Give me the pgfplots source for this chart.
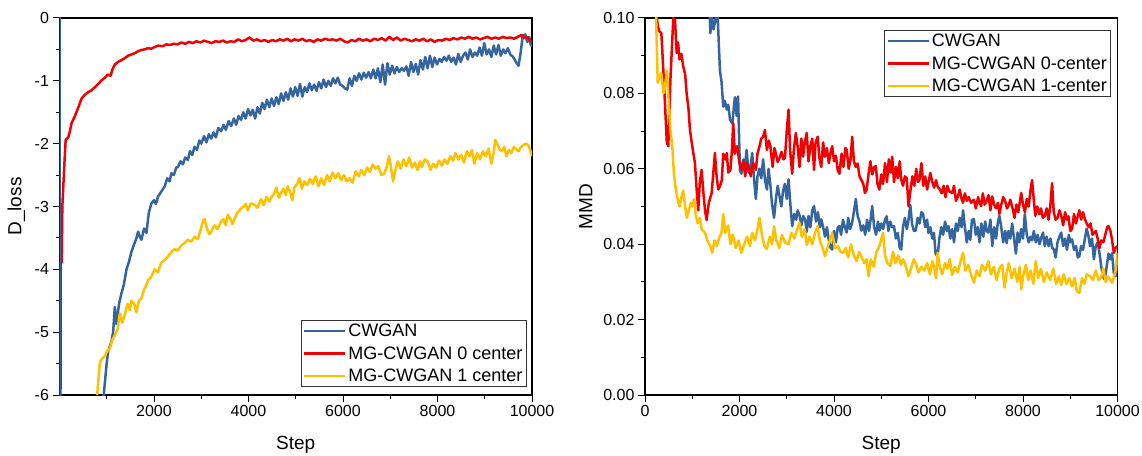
\documentclass[border=0pt]{standalone}
\usepackage{pgfplots}
\pgfplotsset{compat=1.18}
\usepackage{fontspec}
\setmainfont{Liberation Sans}
\definecolor{cblue}{RGB}{52,101,158}
\definecolor{cred}{RGB}{240,0,0}
\definecolor{cyel}{RGB}{255,192,0}
\pgfplotsset{
  myaxis/.style={
    scale only axis, width=472.5pt, height=377pt,
    axis line style={line width=1.1pt},
    tick align=outside, xtick pos=left, ytick pos=left,
    major tick length=7pt, minor tick length=4pt,
    every tick/.style={line width=1pt, black},
    /pgf/number format/assume math mode=true,
    /pgf/number format/1000 sep={},
    scaled ticks=false,
    tick label style={font=\fontsize{16}{18}\selectfont},
    label style={font=\fontsize{19}{22}\selectfont},
    legend style={font=\fontsize{18}{21}\selectfont, draw=black!80, line width=0.9pt, fill=white,
      inner xsep=2pt, inner ysep=1.5pt, row sep=4.5pt, cells={anchor=west}},
    legend image code/.code={\draw[#1, line width=2.3pt] (0pt,0pt) -- (41pt,0pt);},
    clip=true,
  },
  sb/.style={cblue, line width=2.5pt, line join=round},
  sr/.style={cred, line width=2.5pt, line join=round},
  sy/.style={cyel, line width=2.5pt, line join=round},
}
\begin{document}
\begin{tikzpicture}[x=1pt,y=1pt]
\useasboundingbox (0,0) rectangle (1142,455);
% ---------------- left panel ----------------
\begin{axis}[myaxis,
  at={(59.5pt,60pt)}, anchor=south west,
  xmin=0, xmax=10000, ymin=-6, ymax=0,
  xtick={2000,4000,6000,8000,10000}, minor xtick={1000,3000,5000,7000,9000},
  ytick={-6,-5,-4,-3,-2,-1,0}, minor ytick={-5.5,-4.5,-3.5,-2.5,-1.5,-0.5},
  yticklabels={-6,-5,-4,-3,-2,-1,0},
  xlabel={Step}, ylabel={D\_loss},
  xlabel style={at={(axis description cs:0.5,-0.133)}, anchor=center},
  ylabel style={at={(axis description cs:-0.091,0.5)}, anchor=center},
  legend style={at={(axis description cs:0.989,0.021)}, anchor=south east},
]
\addplot[sb] coordinates {(-100,-7) (936,-6.0) (995,-5.52) (1030,-5.3) (1100,-5.15) (1135,-5.0) (1170,-4.6) (1205,-4.87) (1260,-4.55) (1312,-4.38) (1360,-4.25) (1418,-4.0) (1470,-3.88) (1523,-3.72) (1580,-3.6) (1630,-3.5) (1664,-3.4) (1700,-3.48) (1734,-3.53) (1790,-3.35) (1840,-3.42) (1890,-3.1) (1945,-2.95) (2000,-2.9) (2040,-2.96) (2086,-2.84) (2140,-2.78) (2190,-2.72) (2226,-2.68) (2280,-2.55) (2330,-2.6) (2367,-2.47) (2420,-2.5) (2470,-2.38) (2508,-2.37) (2560,-2.28) (2610,-2.33) (2660,-2.22) (2719,-2.26) (2760,-2.12) (2810,-2.18) (2859,-2.05) (2910,-2.1) (2960,-1.95) (3000,-2.0) (3060,-1.88) (3110,-1.98) (3160,-1.85) (3211,-1.92) (3260,-1.82) (3310,-1.9) (3360,-1.75) (3422,-1.8) (3470,-1.7) (3520,-1.78) (3580,-1.64) (3633,-1.72) (3690,-1.6) (3740,-1.7) (3790,-1.56) (3844,-1.62) (3890,-1.5) (3940,-1.6) (3990,-1.45) (4040,-1.55) (4090,-1.46) (4140,-1.6) (4190,-1.42) (4240,-1.52) (4290,-1.35) (4340,-1.45) (4390,-1.3) (4440,-1.42) (4490,-1.28) (4540,-1.4) (4590,-1.26) (4640,-1.37) (4690,-1.2) (4740,-1.32) (4790,-1.18) (4840,-1.3) (4890,-1.12) (4940,-1.25) (4990,-1.1) (5040,-1.24) (5090,-1.05) (5140,-1.25) (5190,-1.1) (5240,-1.18) (5290,-1.04) (5340,-1.15) (5390,-1.06) (5440,-1.16) (5490,-1.02) (5540,-1.12) (5590,-0.98) (5640,-1.1) (5690,-1.0) (5740,-1.08) (5790,-0.96) (5840,-1.04) (5890,-0.95) (5940,-1.06) (5990,-1.08) (6040,-1.12) (6090,-1.14) (6140,-0.96) (6190,-1.08) (6240,-0.92) (6290,-1.0) (6340,-0.88) (6390,-0.98) (6440,-0.87) (6490,-0.95) (6540,-0.86) (6590,-0.96) (6640,-0.82) (6690,-0.96) (6740,-0.8) (6790,-1.02) (6840,-0.74) (6890,-1.06) (6940,-0.72) (6990,-0.9) (7040,-0.76) (7090,-0.88) (7140,-0.78) (7190,-0.86) (7240,-0.8) (7290,-0.84) (7340,-0.77) (7390,-0.92) (7440,-0.7) (7490,-0.86) (7540,-0.73) (7590,-0.9) (7640,-0.67) (7690,-0.82) (7740,-0.62) (7790,-0.8) (7840,-0.6) (7890,-0.78) (7940,-0.63) (7990,-0.74) (8040,-0.65) (8090,-0.7) (8140,-0.62) (8190,-0.68) (8240,-0.6) (8290,-0.7) (8340,-0.63) (8390,-0.74) (8440,-0.57) (8490,-0.7) (8540,-0.6) (8590,-0.55) (8640,-0.66) (8690,-0.5) (8740,-0.62) (8790,-0.55) (8840,-0.6) (8890,-0.47) (8940,-0.6) (8990,-0.4) (9040,-0.58) (9090,-0.5) (9140,-0.62) (9190,-0.44) (9240,-0.58) (9290,-0.43) (9340,-0.6) (9390,-0.5) (9440,-0.56) (9490,-0.48) (9540,-0.58) (9600,-0.62) (9660,-0.7) (9715,-0.76) (9760,-0.55) (9800,-0.3) (9856,-0.26) (9900,-0.38) (9940,-0.3) (9970,-0.42) (10000,-0.45)};
\addlegendentry{CWGAN}
\addplot[sr] coordinates {(20,-6.5) (25,-3.9) (45,-3.9) (60,-3.0) (100,-2.37) (130,-1.94) (186,-1.9) (220,-1.8) (257,-1.67) (327,-1.56) (400,-1.42) (468,-1.28) (540,-1.22) (608,-1.18) (680,-1.15) (750,-1.1) (819,-1.05) (880,-1.0) (960,-0.95) (1020,-0.9) (1080,-0.92) (1120,-0.82) (1171,-0.74) (1240,-0.7) (1312,-0.67) (1380,-0.64) (1450,-0.6) (1520,-0.58) (1593,-0.56) (1660,-0.53) (1730,-0.51) (1800,-0.5) (1870,-0.48) (1940,-0.49) (2015,-0.46) (2100,-0.44) (2180,-0.45) (2260,-0.42) (2340,-0.43) (2420,-0.41) (2500,-0.42) (2580,-0.39) (2660,-0.41) (2740,-0.38) (2820,-0.40) (2900,-0.37) (2980,-0.39) (3060,-0.36) (3140,-0.38) (3220,-0.40) (3300,-0.37) (3380,-0.38) (3460,-0.36) (3540,-0.39) (3620,-0.37) (3700,-0.38) (3780,-0.34) (3860,-0.37) (3940,-0.35) (4020,-0.31) (4100,-0.36) (4180,-0.34) (4260,-0.37) (4340,-0.35) (4420,-0.38) (4500,-0.35) (4580,-0.37) (4660,-0.34) (4740,-0.36) (4820,-0.33) (4900,-0.37) (4980,-0.34) (5060,-0.36) (5140,-0.33) (5220,-0.37) (5300,-0.35) (5380,-0.38) (5460,-0.34) (5540,-0.36) (5620,-0.33) (5700,-0.35) (5780,-0.34) (5860,-0.36) (5940,-0.33) (6020,-0.37) (6100,-0.39) (6180,-0.35) (6260,-0.37) (6340,-0.33) (6420,-0.36) (6500,-0.34) (6580,-0.37) (6660,-0.33) (6740,-0.35) (6820,-0.32) (6900,-0.36) (6980,-0.30) (7060,-0.35) (7140,-0.31) (7220,-0.36) (7300,-0.33) (7380,-0.35) (7460,-0.37) (7540,-0.34) (7620,-0.36) (7700,-0.33) (7780,-0.37) (7860,-0.34) (7940,-0.38) (8020,-0.35) (8100,-0.36) (8180,-0.33) (8260,-0.35) (8340,-0.32) (8420,-0.34) (8500,-0.31) (8580,-0.33) (8660,-0.30) (8740,-0.33) (8820,-0.31) (8900,-0.34) (8980,-0.32) (9060,-0.30) (9140,-0.33) (9220,-0.31) (9300,-0.33) (9380,-0.30) (9460,-0.32) (9540,-0.31) (9620,-0.33) (9700,-0.30) (9780,-0.27) (9840,-0.32) (9900,-0.30) (9950,-0.35) (10000,-0.38)};
\addlegendentry{MG-CWGAN 0 center}
\addplot[sy] coordinates {(796,-6.0) (855,-5.48) (900,-5.42) (960,-5.38) (1010,-5.3) (1065,-5.26) (1120,-5.12) (1170,-5.05) (1230,-4.95) (1276,-4.7) (1330,-4.85) (1382,-4.72) (1440,-4.55) (1490,-4.65) (1523,-4.5) (1580,-4.55) (1628,-4.68) (1680,-4.5) (1734,-4.46) (1790,-4.32) (1840,-4.25) (1875,-4.17) (1940,-4.12) (2015,-4.0) (2080,-4.05) (2150,-3.9) (2226,-3.85) (2290,-3.8) (2370,-3.72) (2437,-3.68) (2500,-3.7) (2578,-3.62) (2650,-3.58) (2719,-3.53) (2790,-3.56) (2860,-3.48) (2930,-3.52) (2990,-3.36) (3040,-3.22) (3070,-3.2) (3120,-3.35) (3170,-3.44) (3211,-3.4) (3280,-3.3) (3340,-3.36) (3422,-3.24) (3470,-3.2) (3520,-3.3) (3563,-3.13) (3620,-3.2) (3660,-3.28) (3703,-3.2) (3760,-3.1) (3844,-3.03) (3900,-3.0) (3940,-2.96) (3985,-3.06) (4050,-2.95) (4125,-2.97) (4190,-3.02) (4265,-2.88) (4320,-2.98) (4380,-2.85) (4440,-2.92) (4476,-2.86) (4540,-2.8) (4590,-2.7) (4640,-2.86) (4687,-2.78) (4740,-2.72) (4790,-2.82) (4828,-2.68) (4870,-2.75) (4930,-2.9) (4968,-2.7) (5020,-2.65) (5080,-2.55) (5130,-2.72) (5180,-2.6) (5240,-2.66) (5300,-2.56) (5360,-2.64) (5420,-2.52) (5480,-2.68) (5540,-2.55) (5600,-2.66) (5660,-2.5) (5720,-2.6) (5780,-2.46) (5840,-2.55) (5900,-2.47) (5960,-2.58) (6020,-2.5) (6080,-2.6) (6140,-2.55) (6200,-2.62) (6270,-2.44) (6330,-2.52) (6390,-2.42) (6450,-2.5) (6510,-2.38) (6570,-2.45) (6630,-2.33) (6690,-2.4) (6750,-2.36) (6810,-2.5) (6870,-2.48) (6930,-2.36) (6972,-2.2) (7010,-2.35) (7060,-2.6) (7100,-2.45) (7160,-2.28) (7220,-2.4) (7280,-2.25) (7340,-2.36) (7400,-2.22) (7460,-2.38) (7520,-2.3) (7580,-2.42) (7630,-2.28) (7670,-2.37) (7730,-2.25) (7790,-2.28) (7850,-2.42) (7910,-2.32) (7970,-2.38) (8030,-2.27) (8090,-2.35) (8150,-2.25) (8210,-2.32) (8270,-2.2) (8330,-2.27) (8380,-2.15) (8440,-2.25) (8500,-2.18) (8560,-2.3) (8620,-2.12) (8680,-2.2) (8730,-2.1) (8780,-2.32) (8840,-2.15) (8900,-2.25) (8960,-2.12) (9020,-2.2) (9080,-2.08) (9140,-2.32) (9190,-2.14) (9223,-1.94) (9270,-2.02) (9320,-2.1) (9364,-2.12) (9410,-2.05) (9460,-2.2) (9510,-2.1) (9560,-2.15) (9620,-2.05) (9680,-2.1) (9715,-2.12) (9760,-2.06) (9820,-2.02) (9890,-2.0) (9940,-2.05) (9970,-2.12) (10000,-2.2)};
\addlegendentry{MG-CWGAN 1 center}
\addplot[sb, forget plot] coordinates {(10,0.5) (10,-6.5)};
\end{axis}
% ---------------- right panel ----------------
\begin{axis}[myaxis,
  at={(645pt,60pt)}, anchor=south west,
  xmin=0, xmax=10000, ymin=0, ymax=0.1,
  xtick={0,2000,4000,6000,8000,10000}, minor xtick={1000,3000,5000,7000,9000},
  ytick={0,0.02,0.04,0.06,0.08,0.1}, minor ytick={0.01,0.03,0.05,0.07,0.09},
  yticklabel style={/pgf/number format/.cd, fixed, fixed zerofill, precision=2},
  xlabel={Step}, ylabel={MMD},
  xlabel style={at={(axis description cs:0.5,-0.133)}, anchor=center},
  ylabel style={at={(axis description cs:-0.125,0.5)}, anchor=center},
  legend style={at={(axis description cs:0.987,0.968)}, anchor=north east},
]
\addplot[sb] coordinates {(1300,0.12) (1385,0.096) (1400,0.102) (1450,0.097) (1500,0.1) (1530,0.103) (1586,0.086) (1620,0.083) (1656,0.0765) (1690,0.078) (1731,0.0757) (1762,0.077) (1800,0.073) (1850,0.072) (1885,0.077) (1903,0.079) (1940,0.074) (1970,0.0792) (2008,0.0597) (2040,0.0587) (2080,0.0625) (2115,0.0605) (2150,0.065) (2192,0.059) (2230,0.06) (2269,0.0642) (2310,0.057) (2346,0.052) (2380,0.058) (2420,0.06) (2460,0.0575) (2500,0.0625) (2540,0.057) (2580,0.0545) (2615,0.06) (2650,0.056) (2690,0.0505) (2731,0.047) (2770,0.052) (2808,0.0555) (2850,0.0525) (2885,0.05) (2920,0.054) (2960,0.056) (3000,0.052) (3038,0.0572) (3080,0.050) (3115,0.0448) (3160,0.048) (3200,0.0465) (3230,0.049) (3269,0.0477) (3310,0.045) (3350,0.0475) (3390,0.0465) (3423,0.0433) (3460,0.0475) (3500,0.0445) (3540,0.049) (3577,0.0501) (3620,0.046) (3660,0.0485) (3700,0.0445) (3731,0.0466) (3770,0.0445) (3810,0.042) (3850,0.0445) (3890,0.041) (3930,0.039) (3962,0.0386) (4000,0.0435) (4040,0.0405) (4080,0.0445) (4115,0.0448) (4150,0.0425) (4190,0.0465) (4230,0.0445) (4269,0.0431) (4300,0.047) (4340,0.044) (4380,0.0455) (4420,0.0485) (4462,0.052) (4500,0.0475) (4540,0.046) (4577,0.0436) (4620,0.045) (4660,0.0425) (4700,0.0465) (4740,0.0435) (4780,0.047) (4808,0.0501) (4850,0.0445) (4890,0.0425) (4930,0.046) (4962,0.0436) (5000,0.0455) (5040,0.044) (5080,0.0465) (5115,0.0474) (5150,0.0435) (5190,0.046) (5230,0.0445) (5269,0.0448) (5310,0.0415) (5350,0.043) (5390,0.039) (5423,0.0386) (5460,0.0445) (5500,0.047) (5540,0.044) (5577,0.0465) (5615,0.0504) (5650,0.0455) (5690,0.0435) (5731,0.0436) (5770,0.047) (5810,0.0455) (5850,0.0485) (5885,0.0480) (5930,0.0445) (5970,0.0465) (6000,0.043) (6040,0.0445) (6080,0.0415) (6115,0.043) (6150,0.0375) (6192,0.0368) (6230,0.0415) (6270,0.0445) (6310,0.0425) (6350,0.046) (6390,0.0435) (6423,0.0448) (6460,0.0415) (6500,0.044) (6540,0.0405) (6580,0.0455) (6620,0.0435) (6660,0.047) (6700,0.0445) (6731,0.049) (6770,0.0445) (6810,0.0405) (6850,0.0435) (6885,0.0412) (6920,0.0465) (6962,0.0466) (7000,0.0425) (7040,0.0445) (7080,0.0405) (7120,0.0455) (7160,0.042) (7200,0.046) (7230,0.0435) (7269,0.0431) (7310,0.0465) (7350,0.0395) (7390,0.0445) (7430,0.0415) (7470,0.046) (7500,0.0475) (7540,0.0445) (7580,0.0405) (7620,0.0435) (7654,0.0403) (7690,0.0435) (7730,0.0415) (7770,0.0455) (7810,0.0415) (7850,0.0375) (7885,0.0431) (7920,0.0405) (7960,0.044) (8000,0.0415) (8038,0.048) (8080,0.0425) (8120,0.0405) (8160,0.042) (8192,0.0410) (8230,0.0435) (8270,0.0405) (8310,0.0425) (8350,0.040) (8380,0.0415) (8423,0.0431) (8460,0.0395) (8500,0.042) (8540,0.0395) (8580,0.0415) (8620,0.039) (8654,0.0386) (8690,0.0365) (8730,0.0405) (8770,0.042) (8808,0.0431) (8850,0.0395) (8890,0.0415) (8930,0.0385) (8970,0.0425) (9000,0.0405) (9038,0.0413) (9080,0.0385) (9120,0.0395) (9160,0.0365) (9192,0.0368) (9230,0.0395) (9270,0.0385) (9310,0.0415) (9346,0.0441) (9380,0.0425) (9420,0.0395) (9460,0.0415) (9500,0.0360) (9540,0.0395) (9580,0.0405) (9620,0.0375) (9654,0.0342) (9690,0.0315) (9731,0.0306) (9770,0.034) (9810,0.0375) (9850,0.036) (9885,0.0376) (9920,0.0325) (9962,0.0315) (10000,0.0365)};
\addlegendentry{CWGAN}
\addplot[sr] coordinates {(231,0.102) (270,0.098) (300,0.0965) (346,0.096) (380,0.088) (420,0.078) (462,0.0669) (493,0.066) (538,0.0837) (580,0.095) (600,0.1) (635,0.0995) (670,0.0907) (700,0.0935) (730,0.089) (770,0.0905) (808,0.0872) (850,0.085) (881,0.080) (920,0.076) (951,0.0703) (1000,0.066) (1057,0.0615) (1090,0.055) (1127,0.049) (1160,0.0565) (1198,0.0597) (1240,0.053) (1270,0.049) (1304,0.0464) (1350,0.051) (1409,0.0535) (1440,0.058) (1480,0.0642) (1515,0.058) (1550,0.0545) (1590,0.0555) (1625,0.057) (1656,0.064) (1700,0.0625) (1731,0.0642) (1762,0.059) (1808,0.0597) (1840,0.065) (1867,0.0721) (1900,0.064) (1950,0.066) (2000,0.0615) (2038,0.0597) (2080,0.062) (2120,0.058) (2160,0.0615) (2192,0.0605) (2240,0.058) (2290,0.0615) (2346,0.0597) (2380,0.064) (2423,0.066) (2460,0.068) (2500,0.0685) (2538,0.0703) (2580,0.065) (2620,0.0675) (2654,0.066) (2700,0.0605) (2740,0.0655) (2770,0.064) (2808,0.0618) (2850,0.063) (2890,0.0645) (2930,0.0625) (2962,0.063) (3000,0.07) (3038,0.0757) (3070,0.065) (3115,0.0587) (3150,0.065) (3192,0.0695) (3230,0.066) (3270,0.0605) (3310,0.068) (3346,0.0632) (3380,0.067) (3423,0.0695) (3460,0.062) (3500,0.066) (3540,0.068) (3577,0.0597) (3610,0.067) (3654,0.0685) (3690,0.063) (3730,0.0605) (3770,0.067) (3808,0.0632) (3850,0.0655) (3890,0.0615) (3930,0.0645) (3962,0.066) (4000,0.062) (4040,0.0635) (4080,0.0595) (4115,0.0587) (4160,0.064) (4200,0.0605) (4240,0.0655) (4269,0.0651) (4310,0.06) (4350,0.0625) (4385,0.0685) (4420,0.062) (4460,0.0605) (4500,0.0614) (4540,0.058) (4580,0.057) (4620,0.056) (4654,0.0536) (4690,0.0545) (4730,0.0585) (4770,0.062) (4810,0.0585) (4850,0.0605) (4885,0.0607) (4920,0.056) (4960,0.0545) (5000,0.0585) (5038,0.0560) (5080,0.0615) (5120,0.0565) (5160,0.0625) (5200,0.059) (5231,0.0632) (5270,0.0565) (5310,0.0605) (5350,0.0575) (5390,0.062) (5423,0.0571) (5460,0.0555) (5500,0.058) (5540,0.0575) (5577,0.0501) (5620,0.0545) (5660,0.058) (5700,0.0555) (5740,0.06) (5780,0.0565) (5808,0.0571) (5850,0.0615) (5890,0.0555) (5930,0.058) (5970,0.0545) (6038,0.0589) (6080,0.0565) (6120,0.055) (6160,0.057) (6192,0.0553) (6240,0.0545) (6280,0.0535) (6320,0.0555) (6360,0.0525) (6400,0.0555) (6440,0.0540) (6500,0.0536) (6540,0.0555) (6580,0.0515) (6620,0.0525) (6660,0.0545) (6700,0.052) (6731,0.051) (6770,0.0535) (6810,0.0515) (6850,0.0525) (6900,0.051) (6962,0.0518) (7000,0.0495) (7050,0.0525) (7080,0.051) (7115,0.0501) (7150,0.0535) (7190,0.0505) (7230,0.0515) (7270,0.053) (7310,0.049) (7346,0.0527) (7390,0.0505) (7430,0.0495) (7470,0.051) (7500,0.048) (7540,0.0505) (7580,0.0525) (7620,0.0515) (7660,0.0495) (7700,0.0505) (7731,0.0518) (7780,0.0495) (7820,0.047) (7860,0.0505) (7900,0.0485) (7962,0.0536) (8000,0.0505) (8040,0.0485) (8080,0.052) (8120,0.05) (8160,0.0545) (8192,0.057) (8230,0.0515) (8260,0.0475) (8300,0.05) (8346,0.048) (8380,0.0495) (8420,0.047) (8460,0.0475) (8500,0.0495) (8540,0.0465) (8580,0.0505) (8615,0.0562) (8650,0.0485) (8690,0.0465) (8731,0.047) (8770,0.049) (8810,0.0475) (8850,0.045) (8890,0.0485) (8930,0.0465) (8962,0.0474) (9000,0.0435) (9038,0.044) (9080,0.048) (9120,0.0455) (9160,0.0475) (9192,0.049) (9230,0.0465) (9270,0.0485) (9300,0.047) (9346,0.0455) (9390,0.0445) (9430,0.0455) (9470,0.0425) (9500,0.043) (9540,0.0435) (9580,0.0415) (9620,0.039) (9654,0.041) (9700,0.0405) (9740,0.0425) (9780,0.0445) (9808,0.0448) (9850,0.0435) (9880,0.0415) (9923,0.0377) (9960,0.039) (10000,0.0395)};
\addlegendentry{MG-CWGAN 0-center}
\addplot[sy] coordinates {(231,0.102) (269,0.0828) (300,0.084) (346,0.0854) (390,0.08) (423,0.082) (462,0.086) (500,0.078) (540,0.07) (577,0.066) (615,0.058) (654,0.0545) (690,0.052) (731,0.050) (770,0.0525) (808,0.0542) (850,0.05) (885,0.047) (930,0.049) (970,0.051) (1000,0.05) (1038,0.052) (1070,0.048) (1115,0.0456) (1160,0.047) (1200,0.044) (1269,0.043) (1320,0.041) (1380,0.0395) (1423,0.0377) (1470,0.041) (1520,0.0395) (1577,0.042) (1620,0.043) (1654,0.048) (1700,0.043) (1760,0.045) (1808,0.040) (1860,0.0425) (1920,0.039) (1980,0.041) (2038,0.0377) (2100,0.04) (2160,0.042) (2220,0.0395) (2269,0.043) (2330,0.041) (2380,0.044) (2423,0.047) (2480,0.042) (2530,0.0395) (2577,0.0387) (2640,0.042) (2690,0.04) (2731,0.0448) (2780,0.041) (2840,0.039) (2900,0.0425) (2960,0.0405) (3038,0.040) (3100,0.043) (3160,0.0415) (3220,0.044) (3269,0.0457) (3320,0.042) (3380,0.044) (3423,0.0398) (3480,0.042) (3540,0.04) (3600,0.043) (3654,0.0448) (3700,0.041) (3760,0.039) (3808,0.0368) (3860,0.039) (3910,0.041) (3962,0.043) (4020,0.039) (4080,0.0395) (4140,0.038) (4192,0.0377) (4250,0.039) (4300,0.0365) (4360,0.04) (4420,0.037) (4480,0.0355) (4530,0.038) (4577,0.0368) (4640,0.035) (4690,0.036) (4731,0.0315) (4780,0.036) (4840,0.034) (4900,0.038) (4960,0.0395) (5038,0.043) (5080,0.037) (5130,0.035) (5192,0.0342) (5250,0.038) (5300,0.035) (5360,0.037) (5420,0.0345) (5460,0.036) (5500,0.035) (5577,0.0315) (5640,0.034) (5690,0.036) (5731,0.0348) (5790,0.0325) (5850,0.034) (5910,0.033) (5970,0.035) (6030,0.032) (6080,0.0355) (6115,0.0342) (6160,0.031) (6192,0.0377) (6240,0.034) (6290,0.032) (6350,0.035) (6400,0.0335) (6450,0.036) (6500,0.0318) (6560,0.034) (6620,0.0325) (6680,0.0355) (6731,0.0377) (6780,0.033) (6840,0.0345) (6900,0.032) (6962,0.0298) (7020,0.033) (7080,0.0315) (7130,0.0345) (7200,0.033) (7269,0.0355) (7320,0.032) (7380,0.034) (7440,0.0305) (7500,0.0335) (7560,0.0345) (7610,0.0285) (7654,0.0324) (7700,0.035) (7760,0.031) (7820,0.0335) (7880,0.03) (7930,0.034) (7962,0.028) (8010,0.032) (8060,0.0345) (8110,0.0305) (8160,0.033) (8220,0.0295) (8269,0.0355) (8320,0.031) (8380,0.0335) (8440,0.03) (8500,0.0325) (8577,0.0305) (8640,0.0335) (8700,0.0295) (8760,0.0315) (8808,0.0292) (8860,0.032) (8920,0.0295) (8980,0.031) (9038,0.0288) (9090,0.031) (9140,0.0275) (9192,0.0271) (9250,0.031) (9300,0.0295) (9350,0.032) (9423,0.0315) (9480,0.0305) (9540,0.033) (9600,0.0305) (9654,0.0312) (9700,0.0335) (9750,0.03) (9800,0.0315) (9850,0.0305) (9885,0.0298) (9930,0.0315) (9960,0.033) (10000,0.0377)};
\addlegendentry{MG-CWGAN 1-center}
\end{axis}
\end{tikzpicture}
\end{document}
